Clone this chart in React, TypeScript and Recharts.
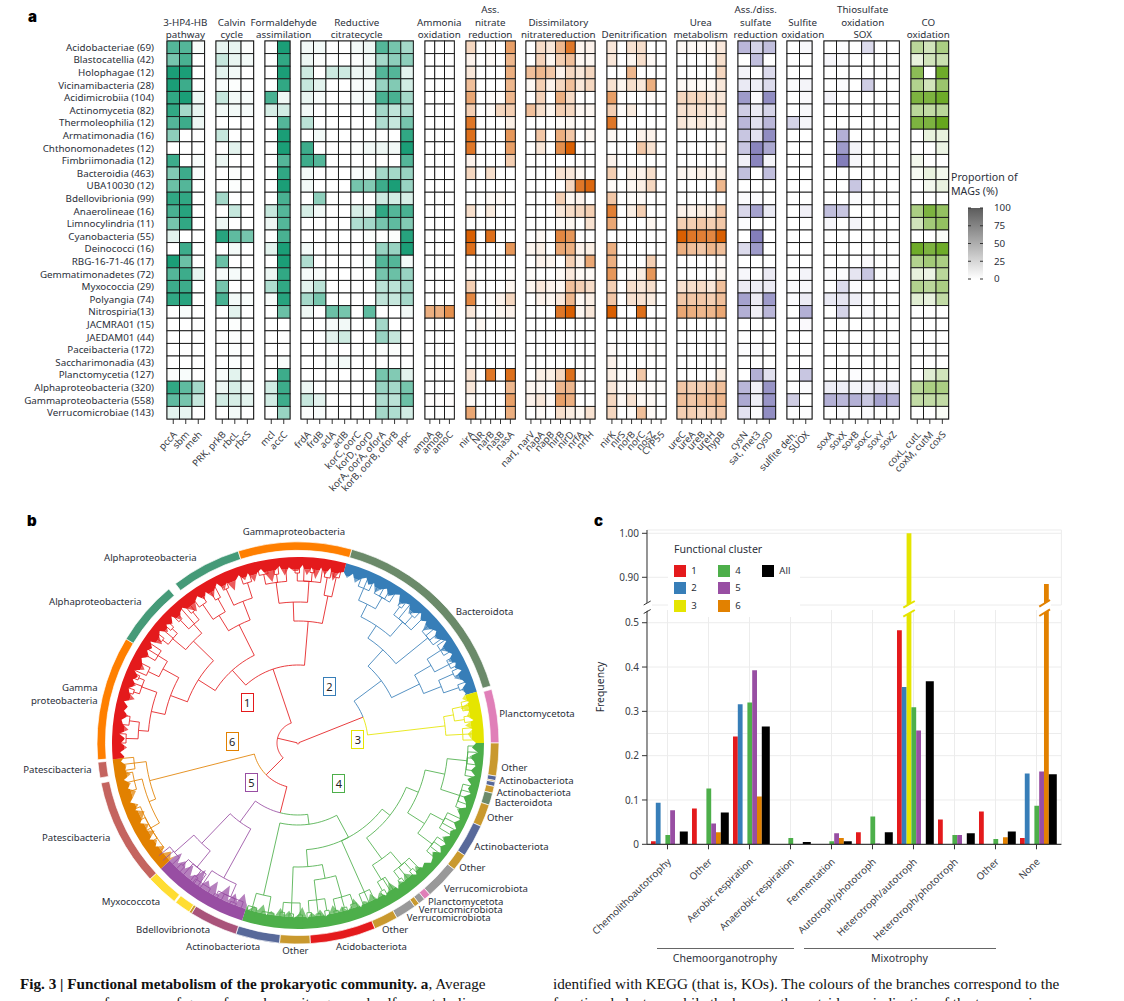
import React from 'react';
import {
  ScatterChart, Scatter, XAxis, YAxis, ReferenceArea, ReferenceLine, PieChart, Pie, Cell,
  RadarChart, Radar, PolarAngleAxis, PolarRadiusAxis, LineChart, Line, BarChart, Bar,
  CartesianGrid,
} from 'recharts';

// ---------- panel a ----------
const taxa = ['Acidobacteriae (69)', 'Blastocatellia (42)', 'Holophagae (12)', 'Vicinamibacteria (28)', 'Acidimicrobiia (104)', 'Actinomycetia (82)', 'Thermoleophilia (12)', 'Armatimonadia (16)', 'Chthonomonadetes (12)', 'Fimbriimonadia (12)', 'Bacteroidia (463)', 'UBA10030 (12)', 'Bdellovibrionia (99)', 'Anaerolineae (16)', 'Limnocylindria (11)', 'Cyanobacteria (55)', 'Deinococci (16)', 'RBG-16-71-46 (17)', 'Gemmatimonadetes (72)', 'Myxococcia (29)', 'Polyangia (74)', 'Nitrospiria(13)', 'JACMRA01 (15)', 'JAEDAM01 (44)', 'Paceibacteria (172)', 'Saccharimonadia (43)', 'Planctomycetia (127)', 'Alphaproteobacteria (320)', 'Gammaproteobacteria (558)', 'Verrucomicrobiae (143)'];

const hpGenes = ['pccA', 'sbm', 'meh'];
const hpValues = [[75,75,3],[60,80,0],[100,100,0],[100,85,0],[90,100,8],[90,40,10],[75,85,8],[50,0,0],[0,0,0],[85,0,3],[55,85,3],[65,75,0],[90,90,0],[80,95,0],[60,90,0],[12,0,0],[0,85,0],[100,65,0],[75,85,10],[85,85,0],[90,95,0],[0,3,0],[0,0,0],[0,0,0],[0,0,0],[0,0,0],[2,3,0],[90,70,40],[70,60,25],[12,10,0]];

const calvinGenes = ['PRK, prkB', 'rbcL', 'rbcS'];
const calvinValues = [[10,10,2],[25,10,5],[12,6,0],[3,1,0],[25,6,4],[5,6,4],[0,0,0],[25,0,0],[0,12,0],[8,0,0],[0,2,0],[0,1,0],[40,0,0],[0,25,0],[8,0,0],[95,70,60],[0,5,0],[65,0,0],[4,4,0],[60,0,0],[80,5,3],[0,12,0],[0,1,0],[0,2,0],[0,1,0],[0,1,0],[3,12,0],[8,18,6],[20,18,12],[0,6,0]];

const formGenes = ['mcl', 'accC'];
const formValues = [[0,100],[0,90],[0,100],[0,90],[80,7],[18,20],[0,75],[0,100],[0,100],[0,75],[0,90],[0,100],[0,80],[25,75],[8,75],[0,80],[12,100],[0,100],[8,90],[35,90],[4,95],[0,65],[0,0],[0,0],[0,0],[0,3],[0,85],[20,85],[20,85],[0,45]];

const citrateGenes = ['frdA', 'frdB', 'aclA', 'aclB', 'korC, oorC', 'korD, oorD', 'korA, oorA, oforA', 'korB, oorB, oforB', 'ppc'];
const citrateValues = [[6,5,0,0,5,8,75,60,40],[8,2,0,0,1,6,40,50,50],[22,0,22,22,8,8,75,75,12],[25,12,0,0,3,4,45,55,20],[10,3,0,0,4,6,80,80,40],[6,0,0,0,0,1,40,28,35],[30,0,0,0,0,0,35,25,60],[0,5,0,0,0,0,0,0,90],[85,0,0,0,2,6,8,6,100],[85,75,0,0,0,0,0,0,75],[5,0,0,0,3,4,40,40,45],[6,0,0,0,60,55,85,100,45],[0,50,0,0,0,0,22,20,18],[18,5,0,0,18,12,90,75,80],[0,0,0,0,35,40,60,70,55],[0,0,0,0,0,2,0,2,95],[5,0,0,0,0,0,45,45,100],[35,0,0,0,0,3,75,75,5],[4,3,0,0,0,0,60,65,45],[12,30,0,0,0,0,30,30,40],[40,60,0,0,0,0,28,25,40],[7,0,65,60,0,70,0,0,6],[0,0,4,6,0,0,40,0,0],[0,0,12,22,0,0,45,25,0],[0,0,0,0,0,0,2,2,0],[0,0,3,5,0,0,0,0,0],[0,0,0,0,0,0,60,55,12],[8,0,0,0,0,0,45,40,60],[25,12,0,0,0,0,35,30,65],[2,3,0,0,0,0,40,35,20]];

const ammoniaGenes = ['amoA', 'amoB', 'amoC'];
const ammoniaValues = [[0,0,0],[0,0,0],[0,0,0],[0,0,0],[0,0,0],[0,0,0],[0,0,0],[0,0,0],[0,0,0],[0,0,0],[0,0,0],[0,0,0],[0,0,0],[0,0,0],[0,0,0],[0,0,0],[0,0,0],[0,0,0],[0,0,0],[0,0,0],[0,0,0],[50,50,70],[0,0,0],[0,0,0],[0,0,0],[0,0,0],[0,0,0],[0,0,0],[1,1,1],[0,0,0]];

const assNitrateGenes = ['nirA', 'NR', 'narB', 'nasB', 'nasA'];
const assNitrateValues = [[25,0,3,0,60],[8,0,3,0,45],[15,0,0,0,50],[40,0,0,0,45],[55,0,2,2,45],[30,0,3,25,30],[85,0,0,0,10],[90,0,0,0,65],[85,0,0,0,60],[8,0,0,0,30],[25,0,20,0,0],[0,0,0,0,0],[0,0,3,4,0],[20,0,12,0,0],[0,0,0,0,0],[100,0,90,0,0],[90,0,0,0,65],[0,0,0,0,0],[3,0,0,0,2],[30,0,0,0,6],[75,0,2,8,25],[15,0,0,5,8],[0,5,0,0,0],[0,0,0,0,0],[0,0,0,0,0],[0,0,0,0,0],[18,0,85,0,90],[15,0,0,0,45],[4,0,0,0,60],[55,0,0,0,50]];

const dissimGenes = ['narI, narV', 'napA', 'napB', 'nirB', 'nirD', 'nrfA', 'nrfH'];
const dissimValues = [[0,22,15,45,85,6,8],[0,28,6,30,40,5,5],[40,45,35,8,25,15,25],[5,30,8,25,40,15,25],[0,28,0,50,22,0,0],[40,20,6,30,25,5,5],[0,0,0,3,5,0,0],[0,35,0,50,35,0,6],[0,15,0,70,100,0,0],[0,0,0,0,0,0,0],[0,0,0,18,15,4,0],[0,0,0,0,25,85,95],[0,0,0,30,6,8,0],[0,0,0,15,22,25,30],[0,0,0,3,6,0,18],[0,4,0,75,65,0,0],[6,10,0,55,50,8,10],[0,8,6,0,30,8,55],[2,0,0,4,14,4,4],[6,14,8,5,40,30,22],[0,8,6,14,45,5,10],[0,0,0,85,100,6,15],[0,0,0,0,0,0,0],[0,0,0,1,0,0,0],[0,0,0,0,0,0,0],[0,0,0,0,0,0,0],[0,10,10,25,90,3,0],[5,5,2,45,45,0,0],[8,15,4,60,50,0,0],[0,3,0,20,12,5,18]];

const denitGenes = ['nirK', 'nirS', 'norB', 'norC', 'nosZ', 'CYP55'];
const denitValues = [[15,0,18,20,0,0],[15,0,6,20,4,0],[0,0,45,0,0,0],[18,6,20,15,50,0],[60,0,0,0,3,0],[30,2,12,0,0,0],[85,0,0,0,0,0],[5,0,0,8,8,0],[0,0,0,35,18,0],[8,0,0,0,0,0],[30,0,10,8,20,0],[3,0,5,10,25,0],[35,0,2,3,0,0],[80,0,10,30,0,0],[55,0,0,0,6,0],[0,0,0,0,0,0],[50,0,0,0,0,0],[50,0,0,0,30,0],[65,0,3,12,65,0],[30,0,20,15,20,0],[35,0,18,18,12,0],[100,0,0,90,0,0],[0,0,0,0,0,0],[0,0,0,0,0,0],[3,0,0,0,2,0],[8,0,0,0,0,0],[10,2,4,35,0,0],[15,3,3,3,2,2],[25,4,18,4,4,0],[25,0,3,40,3,0]];

const ureaGenes = ['ureC', 'ureA', 'ureB', 'ureH', 'hypB'];
const ureaValues = [[4,4,4,4,14],[0,0,0,3,20],[0,0,0,0,25],[4,4,4,4,15],[25,25,25,15,15],[18,18,18,12,18],[15,10,15,6,8],[0,0,0,0,0],[0,0,0,0,6],[0,0,0,0,0],[6,6,10,6,10],[0,0,0,0,45],[0,0,0,0,0],[8,8,12,10,35],[30,30,35,30,35],[100,85,80,75,100],[50,40,35,45,40],[0,0,0,0,3],[0,0,0,0,6],[18,20,22,15,40],[35,35,35,30,40],[55,50,45,45,55],[0,0,0,0,0],[0,0,0,0,0],[0,0,0,0,0],[0,0,0,0,0],[0,0,0,0,12],[35,30,30,35,40],[40,35,40,40,45],[30,30,25,30,35]];

const sulfateGenes = ['cysN', 'sat, met3', 'cysD'];
const sulfateValues = [[50,30,45],[0,45,0],[8,0,25],[15,12,25],[70,4,80],[35,14,30],[50,22,50],[40,20,80],[40,85,60],[10,85,8],[45,0,45],[0,0,0],[3,3,0],[28,65,15],[3,0,0],[0,90,0],[25,70,0],[0,0,0],[6,0,14],[14,12,14],[65,14,70],[55,10,50],[0,0,0],[0,0,0],[1,3,0],[0,0,0],[0,55,22],[50,10,75],[60,12,75],[20,3,80]];

const sulfiteGenes = ['sulfite deh.', 'SUOX'];
const sulfiteValues = [[0,5],[0,0],[0,0],[3,8],[0,4],[0,5],[30,8],[0,0],[0,0],[0,0],[0,0],[0,0],[0,0],[0,10],[0,0],[0,0],[0,0],[0,0],[0,8],[3,5],[3,14],[0,55],[0,4],[0,0],[0,0],[0,0],[0,40],[0,3],[35,0],[2,2]];

const soxGenes = ['soxA', 'soxX', 'soxB', 'soxC', 'soxY', 'soxZ'];
const soxValues = [[0,2,0,25,0,0],[6,3,0,0,0,0],[0,0,0,0,0,0],[0,2,0,35,0,0],[8,0,0,0,0,0],[0,0,0,0,0,0],[0,0,0,0,0,0],[0,55,0,0,0,0],[0,70,8,0,0,0],[0,90,6,0,0,0],[0,0,0,0,0,0],[0,0,40,0,0,0],[0,0,3,0,0,0],[45,40,0,0,0,0],[6,0,8,0,0,0],[0,0,0,0,0,0],[0,0,0,0,0,0],[0,0,0,4,0,0],[2,2,18,40,3,2],[0,25,3,0,0,0],[15,18,12,3,0,0],[0,30,0,5,0,0],[0,0,0,0,0,0],[0,0,0,0,0,0],[0,0,0,0,0,0],[0,0,0,0,0,0],[0,0,2,0,0,0],[12,12,8,10,14,12],[55,50,55,40,65,55],[0,3,0,3,0,0]];

const coGenes = ['coxL, cutL', 'coxM, cutM', 'coxS'];
const coValues = [[45,30,55],[15,30,35],[75,0,95],[50,30,65],[85,85,95],[45,40,45],[85,85,100],[0,15,15],[0,0,12],[8,0,0],[6,14,8],[0,8,14],[0,0,0],[55,85,70],[30,60,70],[0,0,3],[95,85,95],[50,60,55],[15,12,45],[50,45,55],[20,15,40],[0,0,0],[0,0,0],[0,0,0],[0,0,0],[0,0,0],[0,20,30],[45,55,55],[40,40,40],[0,0,4]];

const legendTicks = [0, 25, 50, 75, 100];

// ---------- panel b ----------
const ringNames = ['Bacteroidota', '', 'Planctomycetota', 'Other', 'Actinobacteriota', 'Other', 'Actinobacteriota', 'Other', 'Bacteroidota', 'Other', 'Actinobacteriota', 'Other', 'Verrucomicrobiota', 'Planctomycetota', 'Verrucomicrobiota', 'Other', 'Verrucomicrobiota', 'Other', 'Acidobacteriota', 'Other', 'Actinobacteriota', 'Bdellovibrionota', 'Other', 'Myxococcota', '', 'Myxococcota', 'Patescibacteria', '', 'Patescibacteria', '', 'Gammaproteobacteria', 'Alphaproteobacteria', '', 'Alphaproteobacteria', 'Gammaproteobacteria'];
const ringSpans = [58, 1, 15.5, 9.5, 1.3, 0.4, 1.3, 2, 3.5, 6.5, 9.5, 5, 10, 2, 2, 1.5, 6, 7, 19, 8.8, 12.7, 14, 0.8, 4.7, 0.5, 9.4, 31.1, 1.5, 4.5, 0.7, 36, 18.8, 2.4, 20.3, 32.8];
const phylumColors: Record<string, string> = {
  Bacteroidota: '#6b8a6a', Planctomycetota: '#e07fb8', Other: '#c9992e', Actinobacteriota: '#58699a',
  Verrucomicrobiota: '#999999', Acidobacteriota: '#e41a1c', Bdellovibrionota: '#a9537a', Myxococcota: '#ffdd33',
  Patescibacteria: '#c4645f', Gammaproteobacteria: '#ff7f00', Alphaproteobacteria: '#459a78', '': 'transparent',
};

const clusterColors: Record<string, string> = { red: '#e41a1c', blue: '#377eb8', yellow: '#e5e500', green: '#4daf4a', purple: '#984ea3', orange: '#e28100' };
const bandClusters = ['blue', 'yellow', 'green', 'purple', 'orange', 'red'];
const bandSpans = [59, 16, 107.5, 30, 37.5, 110];

// inner edge of the leaf fringe, one value every 1.5 degrees clockwise from the top
const fringeRed1 = [172,178,168,176,165,177,170,178,166,175];
const fringeBlue = [177,172,178,170,176,179,173,177,169,175,178,172,177,180,171,176,178,170,175,179,173,177,168,175,178,172,176,180,170,175,178,171,177,174,179,169,176,178,172,175];
const fringeYellow = [170,176,166,174,171,177,168,175,170,173];
const fringeGreen = [178,174,180,172,177,179,175,180,173,178,176,180,174,178,180,172,177,179,175,180,176,178,172,179,176,180,173,177,179,174,176,170,177,173,168,175,171,177,166,173,176,170,175,167,174,171,176,165,172,175,169,174,166,173,176,168,174,170,176,164,172,175,168,173,166,174,170,175,165,172,169,174];
const fringePurple = [168,160,170,163,172,158,167,173,160,169,164,172,157,166,171,161,169,163,170,160];
const fringeOrange = [172,167,175,169,176,171,177,168,175,170,177,172,168,176,171,178,173,169,176,172,178,170,175,173,178];
const fringeRed2 = [174,178,171,177,173,179,170,176,178,172,177,174,179,169,176,178,172,177,173,179,170,175,178,172,177,174,179,168,175,178,171,177,173,179,170,176,178,172,166,175,178,171,177,168,175,179,170,176,165,174,178,171,177,167,175,178,170,163,174,178,168,176,172];

// tree: [radius of the node's arc, ...children], a number is a leaf angle, a leading string recolours the branch
const redUpper: any = [78,
  [98,
    [118,
      [136, [154, [165, -56, -58, -60], [166, -63, -66]], [150, [166, [172, -67, -68.5], -70, [172, -72, -73.5]], [160, [170, -81, -84], [172, -87, -90]]]],
      [146, [163, [170, -47, -48.5], -50, [170, -52, -53.5]], [158, [168, -38, -39.5], -41, [170, -43, -44.5]]],
    ],
    [132, [150, [165, -28, -30], [168, -33, -36]], [152, [170, -24, -26], [168, -16, -19]]],
  ],
  [122,
    [141, [162, [172, -13, -10], [170, -8, -6.5], -4], [162, [170, -1, 0.5], 2, [171, 4, 5.5], 8]],
    [150, [168, 9, 11], [170, 12, 14]],
  ],
];
const blueTree: any = ['blue', 104,
  [126,
    [141, [155, [168, 21, 23, 25], [168, 27, 29, 31, 33]], [160, [170, 36, 37.5], 39, [171, 41, 43], 45]],
    [167, 48, 50, 52, 54],
  ],
  [135, [154, [170, 55, 57, 59], [170, 61, 62.5, 64]], [154, [170, 65, 67], [170, 70, 72]]],
];
const yellowTree: any = ['yellow', 148, [158, [168, 76, 77.5, 79], [168, 81, 83]], [165, 85, 87, 89]];
const orangeTree: any = ['orange', 153,
  [165, 265, 263, 261],
  [160, [168, 260, 257, 254], [170, 248, 244, 240, 236, 232]],
];
const purpleTree: any = ['purple', 98,
  [139, [165, 231, 229, 226], [160, [168, 224, 222.5], 221, [168, 218, 216.5], 215]],
  [154, [170, 217, 214, 211], [168, [172, 209, 207.5], 206, [172, 203, 201], 199]],
];
const greenTree: any = ['green', 82,
  [156, [170, 197, 195.5, 194], [172, 192, 190, 188]],
  [107,
    [124,
      [160, [170, 186, 184.5], [171, 183, 181.5], [172, 180, 178.5]],
      [138, [158, [170, 177, 175.5], [172, 174, 172.5], [170, 171, 169.5]], [160, [172, 168, 166.5], [171, 165, 163.5], [170, 162, 160]]],
    ],
    [163, 158, 156, 154],
    [117,
      [143, [160, [170, 151, 149.5], 148, 147], [160, [170, 144, 142.5], 141, [170, 139, 137.5], 136]],
      [130,
        [150, [168, 130, 128, 126, 124], [165, 121, 119, 117, 115]],
        [150, [170, 112, 110, 108, 106, 104], [170, 101, 99, 97, 95, 93, 91]],
      ],
    ],
  ],
];

// ---------- panel c ----------
const behaviours = ['Chemolithoautotrophy', 'Other', 'Aerobic respiration', 'Anaerobic respiration', 'Fermentation', 'Autotroph/phototroph', 'Heterotroph/autotroph', 'Heterotroph/phototroph', 'Other', 'None'];
const cluster1 = [0.007, 0.081, 0.243, 0, 0, 0.027, 0.483, 0.056, 0.074, 0.014];
const cluster2 = [0.094, 0, 0.316, 0, 0, 0, 0.355, 0, 0, 0.16];
const cluster3 = [0, 0, 0, 0, 0, 0, 1.0, 0, 0, 0];
const cluster4 = [0.021, 0.126, 0.32, 0.014, 0.007, 0.063, 0.309, 0.021, 0.012, 0.087];
const cluster5 = [0.077, 0.047, 0.393, 0, 0.025, 0.002, 0.257, 0.021, 0, 0.164];
const cluster6 = [0, 0.027, 0.108, 0, 0.014, 0, 0, 0, 0.016, 0.885];
const clusterAll = [0.029, 0.072, 0.266, 0.005, 0.007, 0.027, 0.368, 0.025, 0.029, 0.158];
const seriesNames = ['1', '2', '3', '4', '5', '6', 'All'];
const seriesColors = ['#e41a1c', '#377eb8', '#e5e500', '#4daf4a', '#984ea3', '#e28100', '#000000'];
const behaviourRows = behaviours.map((name, i) => ({
  name, '1': cluster1[i], '2': cluster2[i], '3': cluster3[i], '4': cluster4[i], '5': cluster5[i], '6': cluster6[i], All: clusterAll[i],
}));

const textColor = '#2b2f3a';
const labelFont = '"Noto Sans", sans-serif';

function Note({ x, y, align = 'left', size = 9.6, color = textColor, children, weight, family, spacing }: any) {
  const shift = align === 'center' ? '-50%' : align === 'right' ? '-100%' : '0';
  return (
    <div style={{ position: 'absolute', left: x, top: y, transform: `translate(${shift}, -50%)`, fontSize: size, color, whiteSpace: 'nowrap', lineHeight: 1, fontWeight: weight, fontFamily: family, letterSpacing: spacing }}>
      {children}
    </div>
  );
}

function SlantedTick({ x, y, payload, names, size, gap, slant }: any) {
  return (
    <g transform={`translate(${x + 2},${y + gap})`}>
      <text transform={`rotate(${slant})`} textAnchor="end" fontSize={size} fill="#3a3d46" dy={3}>{names[payload.value] ?? payload.value}</text>
    </g>
  );
}

function TaxonTick({ x, y, payload }: any) {
  return <text x={x} y={y} dy={3.4} textAnchor="end" fontSize={9.8} fill={textColor}>{taxa[payload.value]}</text>;
}

function HeatGroup({ genes, values, color, left, width, showTaxa }: any) {
  const points = values.flatMap((row: number[], y: number) => row.map((v, x) => ({ x, y, v })));
  const labelWidth = showTaxa ? 167 : 0;
  const plotHeight = 378;
  const cellW = width / genes.length;
  const cellH = plotHeight / taxa.length;
  return (
    <div style={{ position: 'absolute', left: left - labelWidth, top: 41 }}>
      <ScatterChart width={width + labelWidth} height={plotHeight + 8} margin={{ top: 0, right: 0, bottom: 0, left: 0 }}>
        <XAxis type="number" dataKey="x" domain={[-0.5, genes.length - 0.5]} ticks={genes.map((_: string, i: number) => i)} interval={0} height={8} axisLine={false} tickLine={{ stroke: '#333' }} tickSize={5}
          tick={(p: any) => <SlantedTick {...p} names={genes} size={9.6} gap={7} slant={-47} />} />
        <YAxis type="number" dataKey="y" reversed domain={[-0.5, taxa.length - 0.5]} ticks={taxa.map((_, i) => i)} interval={0} width={labelWidth} hide={!showTaxa} axisLine={false} tickLine={false} tickMargin={7} tick={(p: any) => <TaxonTick {...p} />} />
        <Scatter data={points} isAnimationActive={false}
          shape={(p: any) => (
            <g>
              <rect x={p.cx - cellW / 2} y={p.cy - cellH / 2} width={cellW} height={cellH} fill="#fff" />
              <rect x={p.cx - cellW / 2} y={p.cy - cellH / 2} width={cellW} height={cellH} fill={color} fillOpacity={p.payload.v / 100} stroke="#111" strokeWidth={0.9} />
            </g>
          )} />
        <ReferenceArea x1={-0.5} x2={genes.length - 0.5} y1={-0.5} y2={taxa.length - 0.5} fill="none" stroke="#7a7a7a" strokeWidth={1.4} />
      </ScatterChart>
    </div>
  );
}

function HeatHeader({ x, lines }: { x: number; lines: string[] }) {
  return (
    <>
      {lines.map((line, i) => (
        <Note key={i} x={x} y={34.7 - (lines.length - 1 - i) * 12.2} align="center" size={9.8}>{line}</Note>
      ))}
    </>
  );
}

function ProportionLegend() {
  return (
    <div style={{ position: 'absolute', left: 968, top: 207.7 }}>
      <BarChart width={46} height={71} data={[{ name: 'p', v: 100 }]} barCategoryGap={0} margin={{ top: 0, right: 0, bottom: 0, left: 0 }}>
        <defs>
          <linearGradient id="proportionFill" x1="0" y1="0" x2="0" y2="1">
            <stop offset="0" stopColor="#5c5c5c" />
            <stop offset="1" stopColor="#ffffff" />
          </linearGradient>
        </defs>
        <XAxis dataKey="name" hide />
        <YAxis orientation="right" domain={[0, 100]} ticks={legendTicks} interval={0} width={31} axisLine={false} tickLine={false} tickMargin={5} tick={{ fontSize: 9.8, fill: textColor }} />
        <Bar dataKey="v" fill="url(#proportionFill)" isAnimationActive={false} />
        {legendTicks.map((t) => <ReferenceLine key={t} y={t} stroke="#333" strokeDasharray="3 9 3 0" />)}
      </BarChart>
    </div>
  );
}

// ---- tree helpers ----
function shiftTree(node: any, by: number): any {
  if (typeof node === 'number') return node + by;
  return node.map((v: any, i: number) => {
    if (typeof v === 'string') return v;
    const isRadius = (typeof node[0] === 'string' ? i === 1 : i === 0);
    return isRadius ? v : shiftTree(v, by);
  });
}
function partsOf(node: any) {
  const color = typeof node[0] === 'string' ? node[0] : null;
  const rest = color ? node.slice(1) : node;
  return { color, r: rest[0] as number, kids: rest.slice(1) as any[] };
}
function angleOf(node: any): number {
  if (typeof node === 'number') return node;
  const { kids } = partsOf(node);
  return (angleOf(kids[0]) + angleOf(kids[kids.length - 1])) / 2;
}
function polar(theta: number, r: number) {
  const t = (theta * Math.PI) / 180;
  return { x: r * Math.sin(t), y: r * Math.cos(t) };
}
function walkTree(node: any, inherited: string, out: Record<string, any[]>) {
  const { r, kids } = partsOf(node);
  const own = angleOf(node);
  for (const kid of kids) {
    const a = angleOf(kid);
    const kidColor = typeof kid === 'number' ? inherited : partsOf(kid).color ?? inherited;
    const end = typeof kid === 'number' ? 179 : partsOf(kid).r;
    const line = out[kidColor];
    const steps = Math.max(1, Math.ceil(Math.abs(a - own) / 3));
    for (let s = 0; s <= steps; s++) line.push(polar(own + ((a - own) * s) / steps, r));
    line.push(polar(a, end));
    line.push({ x: polar(a, end).x, y: null });
    if (typeof kid !== 'number') walkTree(kid, kidColor, out);
  }
}
const wholeTree: any = [1,
  [21, shiftTree(redUpper, 360), [45, orangeTree, [72, purpleTree, greenTree]]],
  [70, blueTree, yellowTree],
];
const treeLines: Record<string, any[]> = { red: [], blue: [], yellow: [], green: [], purple: [], orange: [] };
walkTree(wholeTree, 'red', treeLines);

const fringe = [...fringeRed1, ...fringeBlue, ...fringeYellow, ...fringeGreen, ...fringePurple, ...fringeOrange, ...fringeRed2].map((r, i) => ({ deg: i * 1.5, r }));

function TreePanel() {
  const box = { position: 'absolute' as const, left: 98, top: 542.5 };
  const bandRows = bandSpans.map((v, i) => ({ name: bandClusters[i], v }));
  return (
    <>
      <div style={{ ...box, left: 88, top: 532.5 }}>
        <PieChart width={420} height={420} margin={{ top: 0, right: 0, bottom: 0, left: 0 }}>
          {/* the soft inner part stands in for the hair-thin leaf tips */}
          <Pie data={bandRows} dataKey="v" cx={210} cy={210} innerRadius={140} outerRadius={174} startAngle={75} endAngle={-285} stroke="none" isAnimationActive={false}>
            {bandClusters.map((c, i) => <Cell key={i} fill={clusterColors[c]} fillOpacity={0.72} stroke="none" />)}
          </Pie>
          <Pie data={bandRows} dataKey="v" cx={210} cy={210} innerRadius={174} outerRadius={186} startAngle={75} endAngle={-285} stroke="none" isAnimationActive={false}>
            {bandClusters.map((c, i) => <Cell key={i} fill={clusterColors[c]} stroke="none" />)}
          </Pie>
          <Pie data={ringSpans.map((v, i) => ({ name: ringNames[i] + i, v }))} dataKey="v" cx={210} cy={210} innerRadius={192.5} outerRadius={201} startAngle={74.5} endAngle={-285.5} isAnimationActive={false}>
            {ringNames.map((n, i) => <Cell key={i} fill={phylumColors[n]} stroke={n ? '#fff' : 'none'} strokeWidth={0.7} />)}
          </Pie>
        </PieChart>
      </div>
      <div style={box}>
        <RadarChart width={400} height={400} cx={200} cy={200} outerRadius={186} startAngle={90} endAngle={-270} data={fringe} margin={{ top: 0, right: 0, bottom: 0, left: 0 }}>
          <PolarAngleAxis dataKey="deg" tick={false} axisLine={false} />
          <PolarRadiusAxis domain={[0, 186]} tick={false} axisLine={false} />
          <Radar dataKey="r" fill="#fff" fillOpacity={1} stroke="none" isAnimationActive={false} dot={false} />
        </RadarChart>
      </div>
      <div style={box}>
        <LineChart width={400} height={400} margin={{ top: 0, right: 0, bottom: 0, left: 0 }}>
          <XAxis type="number" dataKey="x" domain={[-200, 200]} hide />
          <YAxis type="number" domain={[-200, 200]} hide />
          {Object.keys(treeLines).map((c) => (
            <Line key={c} data={treeLines[c]} dataKey="y" stroke={clusterColors[c]} strokeWidth={0.85} dot={false} connectNulls={false} isAnimationActive={false} />
          ))}
        </LineChart>
      </div>
    </>
  );
}

function ClusterBox({ x, y, color, children }: any) {
  return (
    <div style={{ position: 'absolute', left: x - 6, top: y - 9, width: 11, height: 17, border: `1px solid ${color}`, background: '#fff', fontSize: 11, lineHeight: '17px', textAlign: 'center', color: '#222' }}>{children}</div>
  );
}

// ---- bars ----
// the empty first bar nudges the dodged group right of the tick, as in the picture
const barBits = () => [
  <Bar key="spacer" dataKey="spacer" barSize={3} fill="none" isAnimationActive={false} />,
  ...seriesNames.map((s, i) => (
    <Bar key={s} dataKey={s} fill={seriesColors[i]} barSize={s === 'All' ? 8 : 4.8} isAnimationActive={false} />
  )),
];

function FrequencyBars() {
  return (
    <>
      <div style={{ position: 'absolute', left: 602.3, top: 530 }}>
        <BarChart width={459.4} height={75} data={behaviourRows} barGap={0} margin={{ top: 0, right: 0, bottom: 0, left: 0 }}>
          <CartesianGrid stroke="#ececec" />
          <XAxis dataKey="name" height={0} tick={false} tickLine={false} axisLine={false} padding={{ left: 0, right: 4.4 }} allowDuplicatedCategory />
          <YAxis width={45} domain={[0.837, 1.0075]} allowDataOverflow ticks={[0.9, 1]} interval={0} tickFormatter={(v: number) => v.toFixed(2)} axisLine={{ stroke: '#333' }} tickLine={{ stroke: '#333' }} tickSize={5} tickMargin={3} tick={{ fontSize: 10, fill: '#3a3d46' }} />
          {barBits()}
        </BarChart>
      </div>
      <div style={{ position: 'absolute', left: 602.3, top: 610 }}>
        <BarChart width={459.4} height={242} data={behaviourRows} barGap={0} margin={{ top: 0, right: 0, bottom: 0, left: 0 }}>
          <CartesianGrid stroke="#ececec" horizontalValues={[0, 0.1, 0.2, 0.25, 0.3, 0.4, 0.5]} />
          <XAxis dataKey="name" height={7.7} interval={0} padding={{ left: 0, right: 4.4 }} axisLine={{ stroke: '#111', strokeWidth: 1 }} tickLine={{ stroke: '#333' }} tickSize={5} allowDuplicatedCategory
            tick={(p: any) => <SlantedTick {...p} names={{}} size={9.8} gap={9} slant={-44} />} />
          <YAxis width={45} domain={[0, 0.5287]} allowDataOverflow ticks={[0, 0.1, 0.2, 0.3, 0.4, 0.5]} interval={0} tickFormatter={(v: number) => (v === 0 ? '0' : String(v))} axisLine={{ stroke: '#333' }} tickLine={{ stroke: '#333' }} tickSize={5} tickMargin={3} tick={{ fontSize: 10, fill: '#3a3d46' }} />
          {barBits()}
        </BarChart>
      </div>
      <svg width={1124} height={1001} style={{ position: 'absolute', left: 0, top: 0, pointerEvents: 'none' }}>
        <polygon points="903,608 915,601 915,610 903,617" fill="#fff" />
        <line x1={903.3} y1={607.7} x2={914.8} y2={601} stroke={seriesColors[2]} strokeWidth={2} />
        <line x1={903.3} y1={616.7} x2={914.8} y2={610} stroke={seriesColors[2]} strokeWidth={2} />
        <polygon points="1039,607 1051,600 1051,609 1039,616" fill="#fff" />
        <line x1={1039.3} y1={606.7} x2={1050} y2={600} stroke={seriesColors[5]} strokeWidth={2} />
        <line x1={1039.3} y1={616} x2={1050} y2={609.3} stroke={seriesColors[5]} strokeWidth={2} />
        <polygon points="643,605 652,600 652,608 643,613" fill="#fff" />
        <line x1={643.7} y1={605} x2={650.7} y2={601} stroke="#333" />
        <line x1={643.7} y1={613.5} x2={650.7} y2={609.5} stroke="#333" />
      </svg>
      <div style={{ position: 'absolute', left: 668, top: 538, width: 132, height: 79, background: '#fff' }} />
      <Note x={674} y={548.7} size={10.6}>Functional cluster</Note>
      {seriesNames.map((s, i) => {
        const col = i === 6 ? 2 : Math.floor(i / 3);
        const row = i === 6 ? 0 : i % 3;
        const left = 674.3 + col * 44;
        const mid = 570.7 + row * 17.5;
        return (
          <React.Fragment key={s}>
            <div style={{ position: 'absolute', left, top: mid - 6, width: 12, height: 12, background: seriesColors[i] }} />
            <Note x={left + 17} y={mid} size={9.6}>{s}</Note>
          </React.Fragment>
        );
      })}
      <Note x={600} y={687} align="center" size={10.4}><span style={{ display: 'inline-block', transform: 'rotate(-90deg)' }}>Frequency</span></Note>
      <div style={{ position: 'absolute', left: 657.3, top: 948, width: 136.7, height: 1, background: '#666' }} />
      <div style={{ position: 'absolute', left: 804, top: 948, width: 192, height: 1, background: '#666' }} />
      <Note x={725} y={958} align="center" size={10.6}>Chemoorganotrophy</Note>
      <Note x={899.5} y={958} align="center" size={10.6}>Mixotrophy</Note>
    </>
  );
}

export default function App() {
  return (
    <div style={{ position: 'absolute', left: 0, top: 0, width: 1124, height: 1001, overflow: 'hidden', background: '#fff', fontFamily: labelFont }}>
      <style>{'svg.recharts-surface{overflow:visible}'}</style>

      <Note x={28} y={16} size={15} color="#000" weight={900} family="Inter, sans-serif">a</Note>
      <HeatHeader x={185.3} lines={['3-HP4-HB', 'pathway']} />
      <HeatHeader x={231.7} lines={['Calvin', 'cycle']} />
      <HeatHeader x={283.7} lines={['Formaldehyde', 'assimilation']} />
      <HeatHeader x={356.7} lines={['Reductive', 'citratecycle']} />
      <HeatHeader x={439.3} lines={['Ammonia', 'oxidation']} />
      <HeatHeader x={490.3} lines={['Ass.', 'nitrate', 'reduction']} />
      <HeatHeader x={558.3} lines={['Dissimilatory', 'nitratereduction']} />
      <HeatHeader x={634.3} lines={['Denitrification']} />
      <HeatHeader x={700.7} lines={['Urea', 'metabolism']} />
      <HeatHeader x={755.7} lines={['Ass./diss.', 'sulfate', 'reduction']} />
      <HeatHeader x={802.7} lines={['Sulfite', 'oxidation']} />
      <HeatHeader x={862.7} lines={['Thiosulfate', 'oxidation', 'SOX']} />
      <HeatHeader x={928.3} lines={['CO', 'oxidation']} />

      <HeatGroup genes={hpGenes} values={hpValues} color="#1b9e77" left={166.7} width={37.5} showTaxa />
      <HeatGroup genes={calvinGenes} values={calvinValues} color="#1b9e77" left={215.7} width={37.6} />
      <HeatGroup genes={formGenes} values={formValues} color="#1b9e77" left={264.7} width={25} />
      <HeatGroup genes={citrateGenes} values={citrateValues} color="#1b9e77" left={301} width={112.3} />
      <HeatGroup genes={ammoniaGenes} values={ammoniaValues} color="#d95f02" left={424.7} width={29.3} />
      <HeatGroup genes={assNitrateGenes} values={assNitrateValues} color="#d95f02" left={465.7} width={49.3} />
      <HeatGroup genes={dissimGenes} values={dissimValues} color="#d95f02" left={526.3} width={69} />
      <HeatGroup genes={denitGenes} values={denitValues} color="#d95f02" left={606.7} width={59} />
      <HeatGroup genes={ureaGenes} values={ureaValues} color="#d95f02" left={677.3} width={49} />
      <HeatGroup genes={sulfateGenes} values={sulfateValues} color="#7570b3" left={737.7} width={37.6} />
      <HeatGroup genes={sulfiteGenes} values={sulfiteValues} color="#7570b3" left={787} width={25} />
      <HeatGroup genes={soxGenes} values={soxValues} color="#7570b3" left={823.7} width={75.3} />
      <HeatGroup genes={coGenes} values={coValues} color="#66a61e" left={910.7} width={37.6} />

      <Note x={951} y={177} size={10.6}>Proportion of</Note>
      <Note x={951} y={191} size={10.6}>MAGs (%)</Note>
      <ProportionLegend />

      <Note x={27} y={520} size={15} color="#000" weight={900} family="Inter, sans-serif">b</Note>
      <TreePanel />
      <ClusterBox x={246.7} y={702} color={clusterColors.red}>1</ClusterBox>
      <ClusterBox x={329} y={686} color={clusterColors.blue}>2</ClusterBox>
      <ClusterBox x={357.3} y={739.3} color={clusterColors.yellow}>3</ClusterBox>
      <ClusterBox x={338.3} y={783.3} color={clusterColors.green}>4</ClusterBox>
      <ClusterBox x={251} y={782} color={clusterColors.purple}>5</ClusterBox>
      <ClusterBox x={231.7} y={740.7} color={clusterColors.orange}>6</ClusterBox>

      <Note x={242.7} y={532.3}>Gammaproteobacteria</Note>
      <Note x={104} y={558.3}>Alphaproteobacteria</Note>
      <Note x={49} y={601.7}>Alphaproteobacteria</Note>
      <Note x={97.7} y={688.3} align="right">Gamma</Note>
      <Note x={97.7} y={700.7} align="right">proteobacteria</Note>
      <Note x={23.3} y={770}>Patescibacteria</Note>
      <Note x={42} y={838}>Patescibacteria</Note>
      <Note x={101.7} y={901.7}>Myxococcota</Note>
      <Note x={136} y={930}>Bdellovibrionota</Note>
      <Note x={186} y={946.7}>Actinobacteriota</Note>
      <Note x={282.3} y={951}>Other</Note>
      <Note x={336} y={946.7}>Acidobacteriota</Note>
      <Note x={382} y={930}>Other</Note>
      <Note x={406.7} y={917.7}>Verrucomicrobiota</Note>
      <Note x={418.7} y={910}>Verrucomicrobiota</Note>
      <Note x={428} y={901.7}>Planctomycetota</Note>
      <Note x={444} y={889.3}>Verrucomicrobiota</Note>
      <Note x={459.3} y={868.3}>Other</Note>
      <Note x={474.3} y={846.7}>Actinobacteriota</Note>
      <Note x={487} y={817.7}>Other</Note>
      <Note x={494.7} y={802.7}>Bacteroidota</Note>
      <Note x={496.7} y={792.7}>Actinobacteriota</Note>
      <Note x={499.3} y={780.7}>Actinobacteriota</Note>
      <Note x={501.3} y={767.7}>Other</Note>
      <Note x={499.3} y={714.3}>Planctomycetota</Note>
      <Note x={455.7} y={612.3}>Bacteroidota</Note>

      <Note x={594} y={520} size={15} color="#000" weight={900} family="Inter, sans-serif">c</Note>
      <FrequencyBars />

      <Note x={20} y={984} size={15.2} color="#111" family='"Liberation Serif", serif'>
        <b>Fig. 3 | Functional metabolism of the prokaryotic community. a</b>, Average
      </Note>
      <Note x={553} y={984} size={15.2} color="#111" family='"Liberation Serif", serif'>
        identified with KEGG (that is, KOs). The colours of the branches correspond to the
      </Note>
      <Note x={104} y={1003} size={15.2} color="#111" family='"Liberation Serif", serif'>
        frequency of genes for carbon, nitrogen and sulfur metabolism
      </Note>
      <Note x={553} y={1003} size={15.2} color="#111" family='"Liberation Serif", serif'>
        functional clusters, while the bars on the outside are indicative of the taxonomic
      </Note>
    </div>
  );
}
